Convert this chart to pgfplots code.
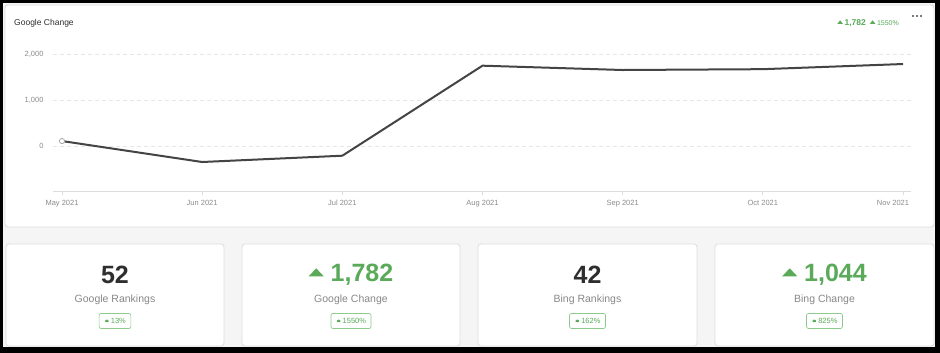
\documentclass[border=0pt]{standalone}
\usepackage{pgfplots}
\pgfplotsset{compat=1.18}
\usepackage{fontspec}
\setmainfont{Liberation Sans}
\definecolor{bggray}{HTML}{F5F5F5}
\definecolor{cardborder}{HTML}{DDDDDD}
\definecolor{gridgray}{HTML}{E6E6E6}
\definecolor{axgray}{HTML}{DCDCDC}
\definecolor{tickgray}{HTML}{8C8C8C}
\definecolor{linegray}{HTML}{444444}
\definecolor{okgreen}{HTML}{5AAA5A}
\definecolor{badgegreen}{HTML}{8CCB8C}
\definecolor{numdark}{HTML}{2E2E2E}
\definecolor{labgray}{HTML}{888888}
\usetikzlibrary{calc}
\newcommand\tri[3]{\tikz[baseline=0pt]{\path (0,0); \fill (0pt,#3)--(#1,#3)--($(#1/2,#3)+(0,#2)$)--cycle;}}
\begin{document}
\begin{tikzpicture}[x=1pt,y=1pt]
% frame and background
\fill[black] (0,0) rectangle (940,353);
\fill[bggray] (3,6) rectangle (935,350);
% top card
\filldraw[fill=white, draw=cardborder, line width=0.8pt, rounded corners=3pt] (5,126) rectangle (934,348);
\node[anchor=west, text=numdark, font=\fontsize{8.5}{10}\selectfont, inner sep=0pt] at (14,330) {Google Change};
\node[anchor=east, text=okgreen, inner sep=0pt] at (899,330) {\tri{5.5pt}{3.5pt}{1.5pt}\,{\fontsize{8.5}{10}\selectfont\bfseries 1,782}\hspace{4pt}\tri{5.5pt}{3.5pt}{1.5pt}\,{\fontsize{7}{9}\selectfont 1550\%}};
\foreach \dx in {913,917,921} \fill[black!70] (\dx,337) circle (1.1pt);
% line chart
\begin{axis}[
  at={(53pt,161pt)}, anchor=south west,
  scale only axis, width=858pt, height=151.8pt,
  xmin=-0.0642, xmax=6.057, ymin=-1000, ymax=2300,
  axis x line=bottom, axis y line=left, axis line style={-},
  x axis line style={draw=axgray, line width=1pt},
  y axis line style={draw=none},
  xtick={0,1,2,3,4,5,6},
  xticklabels={May 2021,Jun 2021,Jul 2021,Aug 2021,Sep 2021,Oct 2021,{\kern-20pt Nov 2021}},
  ytick={0,1000,2000}, yticklabels={0,{1,000},{2,000}},
  ymajorgrids, major grid style={dash pattern=on 4pt off 3pt, gridgray, line width=0.8pt},
  ytick style={draw=none},
  xtick style={draw=axgray, line width=0.8pt},
  tick align=outside, major tick length=3pt,
  tick label style={font=\fontsize{7.5}{9}\selectfont, text=tickgray},
  xticklabel style={yshift=-1.5pt},
  yticklabel style={xshift=-3pt},
  clip=false,
]
\addplot[line width=2pt, color=linegray, mark=*, mark indices={1}, mark size=2.6pt,
  mark options={draw=black!35, fill=white, line width=0.8pt, solid}]
  coordinates {(0,108) (1,-348) (2,-211) (3,1746) (4,1652) (5,1670) (6,1782)};
\end{axis}
% bottom cards
\foreach \xa/\xb in {6/224, 242/460, 478/697, 715/934}
  \filldraw[fill=white, draw=cardborder, line width=0.8pt, rounded corners=3pt] (\xa,7) rectangle (\xb,109);
% card 1
\node[text=numdark, font=\fontsize{25}{30}\selectfont\bfseries] at (115,78.5) {52};
\node[text=labgray, font=\fontsize{10.5}{12}\selectfont] at (115,53) {Google Rankings};
\node[draw=badgegreen, text=okgreen, rounded corners=2pt, line width=0.7pt, minimum height=15pt, inner xsep=5pt, font=\fontsize{7.5}{9}\selectfont] at (115,32) {\tri{5.5pt}{3.5pt}{1.5pt}\,13\%};
% card 2
\node[text=okgreen, font=\fontsize{25}{30}\selectfont\bfseries] at (351,78.5) {\tri{15pt}{8pt}{5pt}\hspace{7pt}1,782};
\node[text=labgray, font=\fontsize{10.5}{12}\selectfont] at (351,53) {Google Change};
\node[draw=badgegreen, text=okgreen, rounded corners=2pt, line width=0.7pt, minimum height=15pt, inner xsep=5pt, font=\fontsize{7.5}{9}\selectfont] at (351,32) {\tri{5.5pt}{3.5pt}{1.5pt}\,1550\%};
% card 3
\node[text=numdark, font=\fontsize{25}{30}\selectfont\bfseries] at (587.5,78.5) {42};
\node[text=labgray, font=\fontsize{10.5}{12}\selectfont] at (587.5,53) {Bing Rankings};
\node[draw=badgegreen, text=okgreen, rounded corners=2pt, line width=0.7pt, minimum height=15pt, inner xsep=5pt, font=\fontsize{7.5}{9}\selectfont] at (587.5,32) {\tri{5.5pt}{3.5pt}{1.5pt}\,162\%};
% card 4
\node[text=okgreen, font=\fontsize{25}{30}\selectfont\bfseries] at (824.5,78.5) {\tri{15pt}{8pt}{5pt}\hspace{7pt}1,044};
\node[text=labgray, font=\fontsize{10.5}{12}\selectfont] at (824.5,53) {Bing Change};
\node[draw=badgegreen, text=okgreen, rounded corners=2pt, line width=0.7pt, minimum height=15pt, inner xsep=5pt, font=\fontsize{7.5}{9}\selectfont] at (824.5,32) {\tri{5.5pt}{3.5pt}{1.5pt}\,825\%};
\end{tikzpicture}
\end{document}
